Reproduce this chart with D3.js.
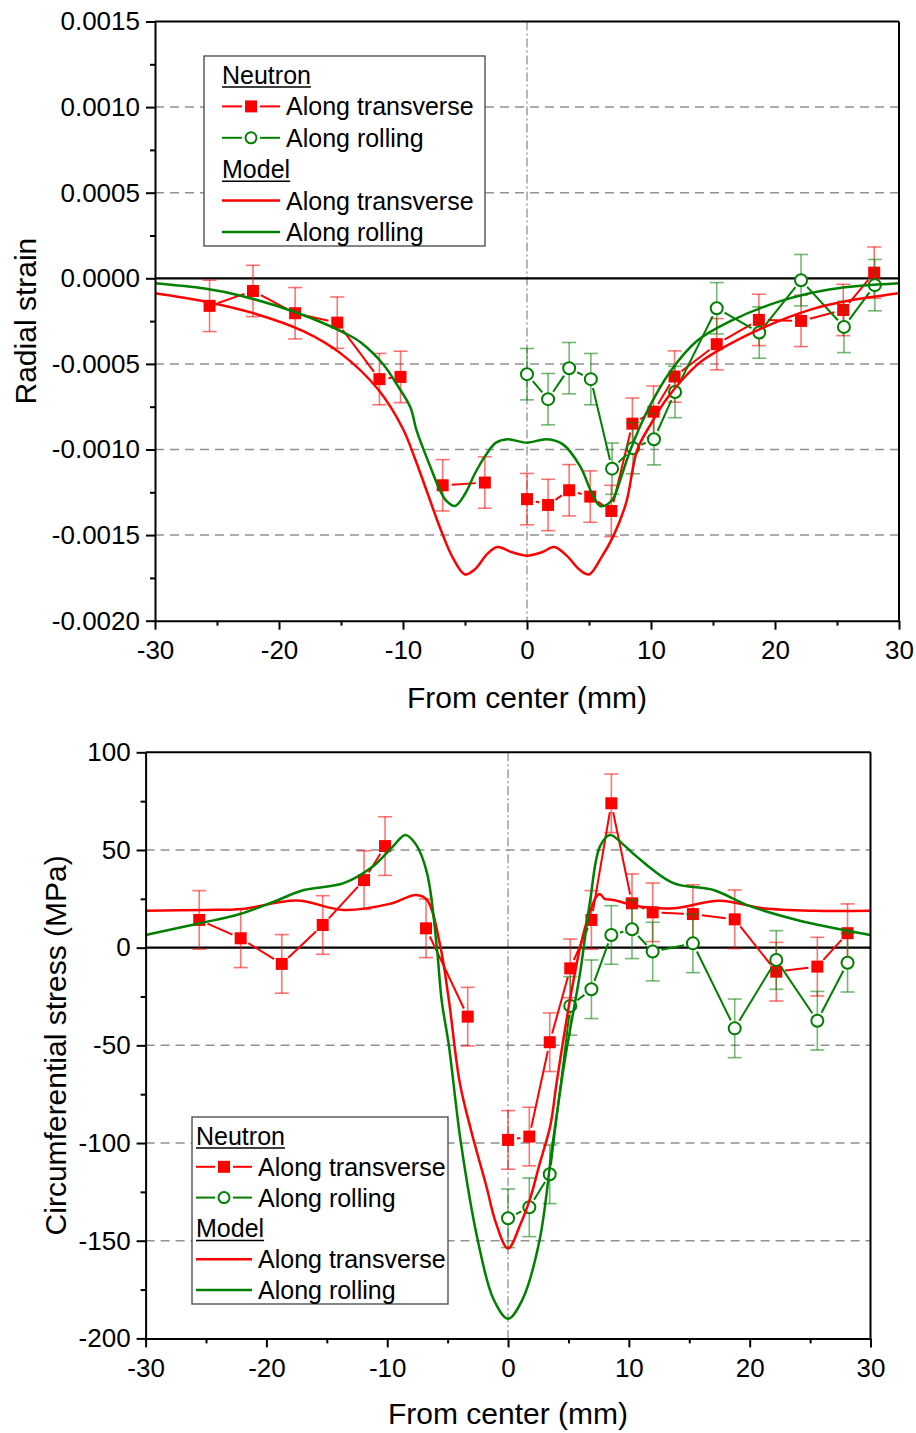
<!DOCTYPE html>
<html>
<head>
<meta charset="utf-8">
<script src="https://cdn.jsdelivr.net/npm/d3@7"></script>
<style>
  body { margin: 0; background: #fff; }
  text { font-family: "Liberation Sans", Arial, sans-serif; }
</style>
</head>
<body>
<svg width="916" height="1433"></svg>
<script>
// ---- shared axis values ----
const xTicks = [-30, -20, -10, 0, 10, 20, 30];
const xTickLabels = ["-30", "-20", "-10", "0", "10", "20", "30"];
const xMinorTicks = [-25, -15, -5, 5, 15, 25];

// ---- radial strain panel ----
const strainTicks = [-0.002, -0.0015, -0.001, -0.0005, 0, 0.0005, 0.001, 0.0015];
const strainTickLabels = ["-0.0020", "-0.0015", "-0.0010", "-0.0005", "0.0000", "0.0005", "0.0010", "0.0015"];
const strainMinorTicks = [-0.00175, -0.00125, -0.00075, -0.00025, 0.00025, 0.00075, 0.00125];
const strainGrid = [0.001, 0.0005, -0.0005, -0.001, -0.0015];

const strainTransX = [-25.6, -22.1, -18.7, -15.3, -11.9, -10.2, -6.8, -3.4, 0, 1.7, 3.4, 5.1, 6.8, 8.5, 10.2, 11.9, 15.3, 18.7, 22.1, 25.5, 28.0];
const strainTransY = [-0.000161, -0.000074, -0.000204, -0.000259, -0.000589, -0.000576, -0.001209, -0.001193, -0.00129, -0.001324, -0.001238, -0.001275, -0.001359, -0.000849, -0.000779, -0.000574, -0.000385, -0.000243, -0.000249, -0.000185, 0.000033];
const strainTransErr = [0.00015, 0.00015, 0.00015, 0.00015, 0.00015, 0.00015, 0.00015, 0.00015, 0.00015, 0.00015, 0.00015, 0.00015, 0.00015, 0.00015, 0.00015, 0.00015, 0.00015, 0.00015, 0.00015, 0.00015, 0.00015];
const strainTransGroup = [0, 0, 0, 0, 0, 0, 1, 1, 2, 2, 2, 2, 2, 2, 2, 2, 2, 2, 2, 2, 2];

const strainRollX = [0, 1.7, 3.4, 5.15, 6.86, 8.55, 10.24, 11.94, 15.3, 18.73, 22.1, 25.56, 28.05];
const strainRollY = [-0.00056, -0.000706, -0.000525, -0.000589, -0.001112, -0.000992, -0.00094, -0.000664, -0.000175, -0.000317, -0.000011, -0.000284, -0.00004];
const strainRollErr = [0.00015, 0.00015, 0.00015, 0.00015, 0.00015, 0.00015, 0.00015, 0.00015, 0.00015, 0.00015, 0.00015, 0.00015, 0.00015];
const strainRollGroup = [0, 0, 0, 0, 0, 0, 0, 0, 0, 0, 0, 0, 0];

const strainModelTransX = [-30, -26, -22, -18, -15, -12, -10, -9, -8, -7, -6, -5, -4.2, -3.2, -2.4, -1.2, 0, 1.2, 2.2, 3.2, 4.2, 5, 6, 7, 8, 8.9, 10, 11.3, 13.8, 15, 19, 23, 26, 30];
const strainModelTransY = [-0.000087, -0.000135, -0.000205, -0.00031, -0.00044, -0.00065, -0.00088, -0.00106, -0.00126, -0.00146, -0.00163, -0.00173, -0.0017, -0.00161, -0.00157, -0.0016, -0.00162, -0.0016, -0.00157, -0.00162, -0.0017, -0.00173, -0.00163, -0.0015, -0.00131, -0.001, -0.00085, -0.0007, -0.0005, -0.00044, -0.00029, -0.00018, -0.00013, -0.000087];

const strainModelRollX = [-30, -26, -23, -18.6, -14.5, -13.4, -11.6, -10.5, -9.4, -8.9, -7.8, -7, -6.5, -5.8, -5, -4.2, -3.3, -2.5, -1.6, 0, 1.6, 2.9, 4.3, 5.2, 5.9, 6.5, 7, 7.6, 8.3, 9.7, 11.6, 13.7, 16.4, 20.5, 24.5, 30];
const strainModelRollY = [-0.000029, -0.00006, -0.000103, -0.0002, -0.000327, -0.000375, -0.000502, -0.00062, -0.000755, -0.00089, -0.0011, -0.00124, -0.0013, -0.00133, -0.00126, -0.00114, -0.00103, -0.00096, -0.00094, -0.00096, -0.00094, -0.00097, -0.0011, -0.00125, -0.00133, -0.00132, -0.00128, -0.00116, -0.00101, -0.000775, -0.00054, -0.000366, -0.00025, -0.000132, -0.000064, -0.000029];

// ---- circumferential stress panel ----
const stressTicks = [-200, -150, -100, -50, 0, 50, 100];
const stressTickLabels = ["-200", "-150", "-100", "-50", "0", "50", "100"];
const stressMinorTicks = [-175, -125, -75, -25, 25, 75];
const stressGrid = [50, -50, -100, -150];

const stressTransX = [-25.56, -22.13, -18.73, -15.34, -11.92, -10.18, -6.79, -3.34, 0, 1.76, 3.45, 5.15, 6.9, 8.55, 10.26, 11.97, 15.3, 18.76, 22.2, 25.6, 28.1];
const stressTransY = [14.2, 4.8, -8.3, 11.6, 34.6, 52.0, 9.9, -35.3, -98.4, -96.7, -48.4, -10.6, 14.2, 73.9, 22.7, 18.1, 17.2, 14.5, -12.3, -9.7, 7.4];
const stressTransErr = [15, 15, 15, 15, 15, 15, 15, 15, 15, 15, 15, 15, 15, 15, 15, 15, 15, 15, 15, 15, 15];
const stressTransGroup = [0, 0, 0, 0, 0, 0, 1, 1, 2, 2, 2, 2, 2, 2, 2, 2, 2, 2, 2, 2, 2];

const stressRollX = [0, 1.76, 3.45, 5.15, 6.9, 8.55, 10.26, 11.97, 15.3, 18.76, 22.2, 25.6, 28.1];
const stressRollY = [-138.5, -132.9, -116, -29.8, -21.3, 6.5, 9.4, -2.0, 2.2, -41.3, -6.3, -37.4, -7.7];
const stressRollErr = [15, 15, 15, 15, 15, 15, 15, 15, 15, 15, 15, 15, 15];
const stressRollGroup = [0, 0, 0, 0, 0, 0, 0, 0, 0, 0, 0, 0, 0];

const stressModelTransX = [-30, -25, -22, -17.5, -13.6, -9.8, -7.6, -6.7, -5.6, -4.9, -4, -3, -1.8, -1, 0, 1, 1.8, 2.6, 3.5, 4, 4.5, 5.2, 5.96, 6.6, 7.3, 7.6, 8, 8.7, 11, 13.7, 17.5, 21.1, 25.3, 30];
const stressModelTransY = [18.9, 19.3, 19.8, 24.1, 19.3, 22.4, 27, 24.4, 0.5, -26.8, -69, -95, -122, -141, -154, -142, -129, -111, -91, -70, -50, -24, 0, 15, 26, 27.5, 25, 24.4, 21, 20.2, 24, 20.2, 18.9, 18.9];

const stressModelRollX = [-30, -25.5, -22.2, -19.4, -16.9, -13.6, -11.2, -9.5, -8.5, -7.6, -6.7, -5.9, -5.5, -4.9, -3.9, -2.5, -1.2, 0, 1.2, 2.6, 3.7, 4.7, 5.96, 6.8, 7.6, 8.44, 9.5, 10.65, 13.7, 17, 19.8, 23.9, 30];
const stressModelRollY = [6.5, 12.5, 17.2, 23.5, 29.5, 33, 41.5, 52, 57.7, 52.6, 38, 0.5, -26.8, -50, -100, -150, -180, -190, -180, -150, -100, -57.5, -13, 24.4, 51.7, 57.7, 53, 46.6, 33, 29.5, 21.8, 14.2, 6.5];

const RED = "#ff0000";
const GREEN = "#008000";
const svg = d3.select("svg");

function drawNeutron(g, x, y, xs, ys, errs, groups, color, shape) {
  const pts = xs.map((v, i) => ({ x: v, y: ys[i], e: errs[i], grp: groups[i] }));
  const gap = 9;
  const segs = d3.pairs(pts)
    .filter(([a, b]) => a.grp === b.grp)
    .map(([a, b]) => {
      const x0 = x(a.x), y0 = y(a.y), x1 = x(b.x), y1 = y(b.y);
      const len = Math.hypot(x1 - x0, y1 - y0);
      if (len <= 2 * gap) return null;
      const ux = (x1 - x0) / len, uy = (y1 - y0) / len;
      return [x0 + ux * gap, y0 + uy * gap, x1 - ux * gap, y1 - uy * gap];
    })
    .filter(Boolean);

  g.append("g").selectAll("line").data(segs).join("line")
    .attr("x1", d => d[0]).attr("y1", d => d[1])
    .attr("x2", d => d[2]).attr("y2", d => d[3])
    .attr("stroke", color).attr("stroke-width", 2);

  // error bars
  const eb = g.append("g").attr("stroke", color).attr("stroke-opacity", 0.55).attr("stroke-width", 1.6);
  eb.selectAll("line.v").data(pts).join("line").attr("class", "v")
    .attr("x1", d => x(d.x)).attr("x2", d => x(d.x))
    .attr("y1", d => y(d.y - d.e)).attr("y2", d => y(d.y + d.e));
  eb.selectAll("line.t").data(pts).join("line").attr("class", "t")
    .attr("x1", d => x(d.x) - 7).attr("x2", d => x(d.x) + 7)
    .attr("y1", d => y(d.y + d.e)).attr("y2", d => y(d.y + d.e));
  eb.selectAll("line.b").data(pts).join("line").attr("class", "b")
    .attr("x1", d => x(d.x) - 7).attr("x2", d => x(d.x) + 7)
    .attr("y1", d => y(d.y - d.e)).attr("y2", d => y(d.y - d.e));

  if (shape === "square") {
    g.append("g").selectAll("rect").data(pts).join("rect")
      .attr("x", d => x(d.x) - 6).attr("y", d => y(d.y) - 6)
      .attr("width", 12).attr("height", 12).attr("fill", color);
  } else {
    g.append("g").selectAll("circle").data(pts).join("circle")
      .attr("cx", d => x(d.x)).attr("cy", d => y(d.y)).attr("r", 6)
      .attr("fill", "#fff").attr("stroke", color).attr("stroke-width", 2);
  }
}

function drawLegend(g, lx, ly, w, h, step, hx, sampleW) {
  g.append("rect").attr("x", lx).attr("y", ly).attr("width", w).attr("height", h)
    .attr("fill", "#fff").attr("stroke", "#444").attr("stroke-width", 1.3);
  const rows = [
    { label: "Neutron", header: true },
    { label: "Along transverse", color: RED, marker: "square" },
    { label: "Along rolling", color: GREEN, marker: "circle" },
    { label: "Model", header: true },
    { label: "Along transverse", color: RED },
    { label: "Along rolling", color: GREEN }
  ];
  rows.forEach((r, i) => {
    const cy = ly + 19 + i * step;
    if (r.header) {
      const t = g.append("text").attr("x", hx).attr("y", cy + 9)
        .attr("font-size", 25).text(r.label);
      const tw = t.node().getComputedTextLength();
      g.append("line").attr("x1", hx).attr("x2", hx + tw)
        .attr("y1", cy + 12).attr("y2", cy + 12).attr("stroke", "#000").attr("stroke-width", 1.5);
      return;
    }
    const x0 = hx, x1 = hx + sampleW, xm = (x0 + x1) / 2;
    if (r.marker) {
      g.append("line").attr("x1", x0).attr("x2", xm - 9).attr("y1", cy).attr("y2", cy)
        .attr("stroke", r.color).attr("stroke-width", 2);
      g.append("line").attr("x1", xm + 9).attr("x2", x1).attr("y1", cy).attr("y2", cy)
        .attr("stroke", r.color).attr("stroke-width", 2);
      if (r.marker === "square") {
        g.append("rect").attr("x", xm - 6).attr("y", cy - 6).attr("width", 12).attr("height", 12).attr("fill", r.color);
      } else {
        g.append("circle").attr("cx", xm).attr("cy", cy).attr("r", 5.5)
          .attr("fill", "#fff").attr("stroke", r.color).attr("stroke-width", 2);
      }
    } else {
      g.append("line").attr("x1", x0).attr("x2", x1).attr("y1", cy).attr("y2", cy)
        .attr("stroke", r.color).attr("stroke-width", 2.5);
    }
    g.append("text").attr("x", x1 + 6).attr("y", cy + 9).attr("font-size", 25).text(r.label);
  });
}

function drawPanel(c) {
  const x = d3.scaleLinear().domain([-30, 30]).range(c.xRange);
  const y = d3.scaleLinear().domain(c.yDomain).range(c.yRange);
  const [left, right] = c.xRange;
  const [bottom, top] = c.yRange;
  const g = svg.append("g");

  g.selectAll("line.grid").data(c.grid).join("line").attr("class", "grid")
    .attr("x1", left).attr("x2", right)
    .attr("y1", d => y(d)).attr("y2", d => y(d))
    .attr("stroke", "#919191").attr("stroke-width", 1.5).attr("stroke-dasharray", "9,6");
  g.append("line").attr("x1", x(0)).attr("x2", x(0)).attr("y1", top).attr("y2", bottom)
    .attr("stroke", "#919191").attr("stroke-width", 1.3).attr("stroke-dasharray", "9,3,2,3");
  g.append("line").attr("x1", left).attr("x2", right).attr("y1", y(0)).attr("y2", y(0))
    .attr("stroke", "#000").attr("stroke-width", 2.2);

  drawNeutron(g, x, y, c.transX, c.transY, c.transErr, c.transGroup, RED, "square");
  drawNeutron(g, x, y, c.rollX, c.rollY, c.rollErr, c.rollGroup, GREEN, "circle");

  const line = d3.line().x(d => x(d[0])).y(d => y(d[1])).curve(d3.curveCatmullRom.alpha(0.5));
  g.append("path").datum(d3.zip(c.modelTransX, c.modelTransY)).attr("d", line)
    .attr("fill", "none").attr("stroke", RED).attr("stroke-width", 2.5);
  g.append("path").datum(d3.zip(c.modelRollX, c.modelRollY)).attr("d", line)
    .attr("fill", "none").attr("stroke", GREEN).attr("stroke-width", 2.5);

  // frame
  g.append("line").attr("x1", left).attr("x2", right).attr("y1", top).attr("y2", top)
    .attr("stroke", "#000").attr("stroke-width", 2);
  g.append("line").attr("x1", right).attr("x2", right).attr("y1", top).attr("y2", bottom)
    .attr("stroke", "#000").attr("stroke-width", 2);

  // axes
  const xAxis = g.append("g").attr("transform", `translate(0,${bottom})`)
    .call(d3.axisBottom(x).tickValues(xTicks).tickFormat((d, i) => xTickLabels[i])
      .tickSize(9).tickSizeOuter(0).tickPadding(11));
  g.append("g").attr("transform", `translate(0,${bottom})`)
    .call(d3.axisBottom(x).tickValues(xMinorTicks).tickFormat("").tickSize(5).tickSizeOuter(0))
    .call(a => a.select(".domain").remove());
  const yAxis = g.append("g").attr("transform", `translate(${left},0)`)
    .call(d3.axisLeft(y).tickValues(c.yTicks).tickFormat((d, i) => c.yTickLabels[i])
      .tickSize(9).tickSizeOuter(0).tickPadding(6));
  g.append("g").attr("transform", `translate(${left},0)`)
    .call(d3.axisLeft(y).tickValues(c.yMinor).tickFormat("").tickSize(5).tickSizeOuter(0))
    .call(a => a.select(".domain").remove());
  g.selectAll(".domain, .tick line").attr("stroke", "#000").attr("stroke-width", 2);
  [xAxis, yAxis].forEach(a => a.selectAll("text")
    .attr("font-size", 26).attr("fill", "#000")
    .style("font-family", "'Liberation Sans', Arial, sans-serif"));

  g.append("text").attr("x", (left + right) / 2).attr("y", c.xTitleY)
    .attr("text-anchor", "middle").attr("font-size", 30).text("From center (mm)");
  g.append("text").attr("transform", `translate(${c.yTitleX},${(top + bottom) / 2}) rotate(-90)`)
    .attr("text-anchor", "middle").attr("font-size", 30).text(c.yTitle);

  drawLegend(g, c.legend[0], c.legend[1], c.legend[2], c.legend[3], c.legend[4], c.legend[5], c.legend[6]);
}

drawPanel({
  xRange: [155, 899], yDomain: [-0.002, 0.0015], yRange: [620.7, 21.5],
  yTicks: strainTicks, yTickLabels: strainTickLabels, yMinor: strainMinorTicks, grid: strainGrid,
  transX: strainTransX, transY: strainTransY, transErr: strainTransErr, transGroup: strainTransGroup,
  rollX: strainRollX, rollY: strainRollY, rollErr: strainRollErr, rollGroup: strainRollGroup,
  modelTransX: strainModelTransX, modelTransY: strainModelTransY,
  modelRollX: strainModelRollX, modelRollY: strainModelRollY,
  xTitleY: 708, yTitleX: 36, yTitle: "Radial strain",
  legend: [204, 56, 281, 190, 31.4, 222, 58]
});

drawPanel({
  xRange: [145.6, 870.5], yDomain: [-200, 100], yRange: [1338.4, 752.3],
  yTicks: stressTicks, yTickLabels: stressTickLabels, yMinor: stressMinorTicks, grid: stressGrid,
  transX: stressTransX, transY: stressTransY, transErr: stressTransErr, transGroup: stressTransGroup,
  rollX: stressRollX, rollY: stressRollY, rollErr: stressRollErr, rollGroup: stressRollGroup,
  modelTransX: stressModelTransX, modelTransY: stressModelTransY,
  modelRollX: stressModelRollX, modelRollY: stressModelRollY,
  xTitleY: 1424, yTitleX: 66, yTitle: "Circumferential stress (MPa)",
  legend: [192, 1117, 256, 187, 30.8, 196, 56]
});
</script>
</body>
</html>
